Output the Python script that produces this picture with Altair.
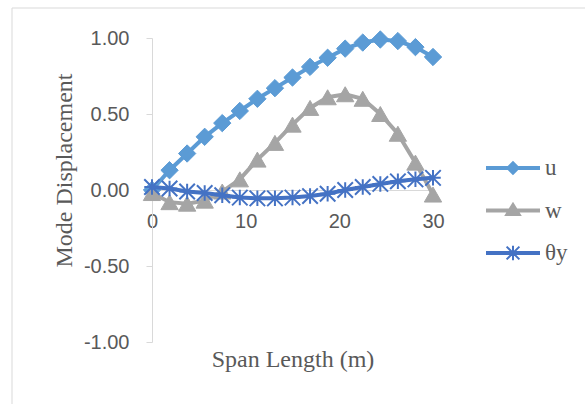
import altair as alt
import pandas as pd

span = [0, 1.875, 3.75, 5.625, 7.5, 9.375, 11.25, 13.125, 15, 16.875,
        18.75, 20.625, 22.5, 24.375, 26.25, 28.125, 30]
u_vals = [0.0, 0.13, 0.24, 0.35, 0.44, 0.52, 0.60, 0.67, 0.74, 0.81,
          0.87, 0.93, 0.97, 0.99, 0.98, 0.94, 0.875]
w_vals = [-0.02, -0.08, -0.09, -0.07, -0.01, 0.07, 0.20, 0.31, 0.43, 0.54,
          0.61, 0.63, 0.60, 0.50, 0.37, 0.18, -0.03]
th_vals = [0.02, 0.01, -0.01, -0.02, -0.035, -0.05, -0.055, -0.055, -0.05, -0.04,
           -0.025, 0.0, 0.02, 0.04, 0.057, 0.07, 0.08]
series_names = ["u", "w", "θy"]
series_colors = ["#5B9BD5", "#A5A5A5", "#4472C4"]
y_ticks = [-1.0, -0.5, 0.0, 0.5, 1.0]
x_ticks = [0, 10, 20, 30]

rows = []
for name, vals in zip(series_names, [u_vals, w_vals, th_vals]):
    for s, v in zip(span, vals):
        rows.append({"span": s, "value": v, "series": name})
df = pd.DataFrame(rows)

W, H = 281, 304
PL, PT = 152, 38

x_enc = alt.X("span:Q", scale=alt.Scale(domain=[0, 30], nice=False, zero=False),
              axis=alt.Axis(values=x_ticks, title="Span Length (m)", grid=False,
                            ticks=False, domainColor="#D9D9D9", domainWidth=1,
                            offset=-(H / 2), labelPadding=21, labelFlush=False,
                            labelFont="Liberation Sans", labelFontSize=20,
                            labelColor="#595959",
                            titleFont="Liberation Serif", titleFontSize=24,
                            titleFontWeight="normal", titleColor="#595959",
                            titleBaseline="alphabetic", titleY=176))
y_enc = alt.Y("value:Q", scale=alt.Scale(domain=[-1, 1], nice=False),
              axis=alt.Axis(values=y_ticks, title="Mode Displacement",
                            labelExpr="datum.value < 0 ? '-' + format(-datum.value, '.2f') : format(datum.value, '.2f')",
                            grid=False, domainColor="#D9D9D9", tickColor="#D9D9D9",
                            tickSize=6, labelPadding=17, labelFlush=False,
                            labelFont="Liberation Sans", labelFontSize=20,
                            labelColor="#595959",
                            titleFont="Liberation Serif", titleFontSize=24,
                            titleFontWeight="normal", titleColor="#595959",
                            titleBaseline="alphabetic", titleX=-81, titleY=132))

base = alt.Chart(df)

star_path = "M-1,-1L1,1M-1,1L1,-1M0,-1L0,1M-1,0L1,0"

layers = []
marks = [("u", "#5B9BD5", "diamond", True, 300),
         ("w", "#A5A5A5", "triangle-up", True, 300),
         ("θy", "#4472C4", star_path, False, 240)]
for name, col, shp, filled, sz in marks:
    sub = base.transform_filter(alt.datum.series == name)
    layers.append(sub.mark_line(color=col, strokeWidth=4).encode(x=x_enc, y=y_enc))
    if filled:
        layers.append(sub.mark_point(shape=shp, filled=True, color=col, size=sz,
                                     opacity=1, stroke=col, strokeWidth=1)
                      .encode(x=x_enc, y=y_enc))
    else:
        layers.append(sub.mark_point(shape=shp, filled=False, color=col, size=sz,
                                     opacity=1, strokeWidth=2)
                      .encode(x=x_enc, y=y_enc))

# legend symbols: line + marker drawn as filled paths
line_part = "M-1.35,-0.1L1.35,-0.1L1.35,0.1L-1.35,0.1Z"
leg_diamond = line_part + "M0,-0.36L0.36,0L0,0.36L-0.36,0Z"
leg_tri = line_part + "M0,-0.44L0.44,0.27L-0.44,0.27Z"
leg_star = (line_part
            + "M-0.05,-0.36L0.05,-0.36L0.05,0.36L-0.05,0.36Z"
            + "M-0.355,-0.285L-0.285,-0.355L0.355,0.285L0.285,0.355Z"
            + "M0.285,-0.355L0.355,-0.285L-0.285,0.355L-0.355,0.285Z")

leg_cfg = dict(title=None, orient="none", legendX=341, legendY=110,
               symbolOpacity=1, symbolStrokeWidth=0, symbolSize=1600,
               labelOffset=12, rowPadding=10.5,
               labelFont="Liberation Serif", labelFontSize=23,
               labelColor="#595959", labelBaseline="middle")

legend_layer = base.mark_point(filled=True, opacity=0, size=1600).encode(
    x=x_enc, y=y_enc,
    color=alt.Color("series:N",
                    scale=alt.Scale(domain=series_names, range=series_colors),
                    legend=alt.Legend(**leg_cfg)),
    shape=alt.Shape("series:N",
                    scale=alt.Scale(domain=series_names,
                                    range=[leg_diamond, leg_tri, leg_star]),
                    legend=alt.Legend(**leg_cfg)),
)

# chart-area border (decoration)
border_left = alt.Chart(pd.DataFrame({"a": [0]})).mark_rule(color="#D9D9D9", strokeWidth=1).encode(
    x=alt.value(12 - PL), y=alt.value(8 - PT), y2=alt.value(420 - PT))
border_top = alt.Chart(pd.DataFrame({"a": [0]})).mark_rule(color="#D9D9D9", strokeWidth=1).encode(
    x=alt.value(12 - PL), x2=alt.value(600 - PL), y=alt.value(8 - PT))

chart = alt.layer(border_left, border_top, *layers, legend_layer).properties(
    width=W, height=H,
    autosize=alt.AutoSizeParams(type="none"),
    padding={"left": PL, "top": PT, "right": 585 - PL - W, "bottom": 404 - PT - H},
    background="white",
).configure_view(stroke=None)

chart.save("out.html", embed_options={"renderer": "svg", "actions": False})
